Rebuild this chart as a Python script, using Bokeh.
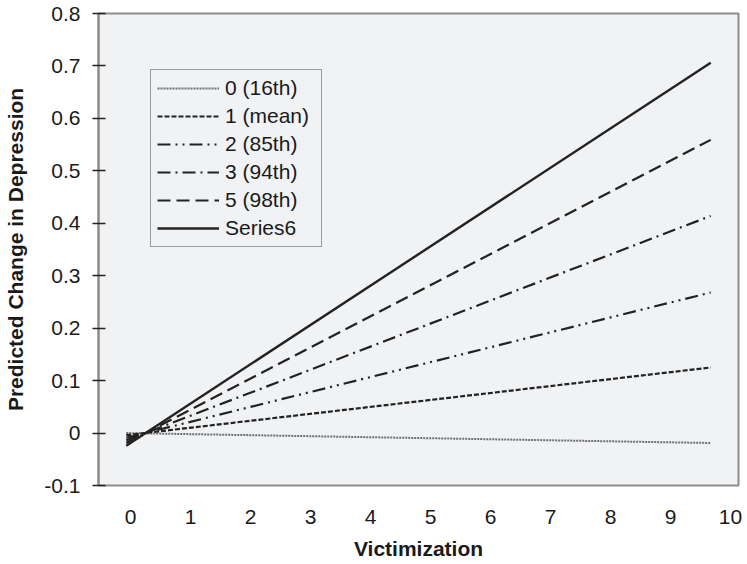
from bokeh.plotting import figure
from bokeh.models import Range1d, FixedTicker, Legend, LegendItem
from bokeh.embed import file_html
from bokeh.resources import INLINE

# ---- data ----
x_vals = [-0.07, 9.67]
s_16th = [0.000, -0.019]
s_mean = [-0.004, 0.125]
s_85th = [-0.009, 0.268]
s_94th = [-0.014, 0.414]
s_98th = [-0.019, 0.559]
s_series6 = [-0.024, 0.706]

labels = ["0 (16th)", "1 (mean)", "2 (85th)", "3 (94th)", "5 (98th)", "Series6"]
x_ticks = list(range(0, 11))
y_ticks = [-0.1, 0.0, 0.1, 0.2, 0.3, 0.4, 0.5, 0.6, 0.7, 0.8]
y_tick_labels = {-0.1: "-0.1", 0.0: "0", 0.1: "0.1", 0.2: "0.2", 0.3: "0.3",
                 0.4: "0.4", 0.5: "0.5", 0.6: "0.6", 0.7: "0.7", 0.8: "0.8"}

FONT = "Liberation Sans"
FS = "21px"
TXT = "#1a1a1a"
BG = "#f1f2f4"

p = figure(width=745, height=562, output_backend="svg", toolbar_location=None,
           x_range=Range1d(-0.533, 10.133), y_range=Range1d(-0.1, 0.8),
           min_border_left=98, min_border_right=7, min_border_top=13, min_border_bottom=75,
           background_fill_color=BG, border_fill_color="white")

p.outline_line_color = "#8c8c8c"
p.outline_line_width = 2
p.grid.visible = False

# x axis
xa = p.xaxis[0]
xa.ticker = FixedTicker(ticks=x_ticks)
xa.axis_line_color = None
xa.major_tick_line_color = None
xa.minor_tick_line_color = None
xa.major_tick_out = 0
xa.major_tick_in = 0
xa.major_label_standoff = 24
xa.major_label_text_font = FONT
xa.major_label_text_font_size = FS
xa.major_label_text_color = TXT
xa.axis_label = "Victimization"
xa.axis_label_text_font = FONT
xa.axis_label_text_font_size = FS
xa.axis_label_text_font_style = "bold"
xa.axis_label_text_color = TXT
xa.axis_label_standoff = 10

# y axis
ya = p.yaxis[0]
ya.ticker = FixedTicker(ticks=y_ticks)
ya.major_label_overrides = y_tick_labels
ya.axis_line_color = "#8c8c8c"
ya.axis_line_width = 2
ya.major_tick_line_color = "#222222"
ya.major_tick_line_width = 1.5
ya.major_tick_out = 6
ya.major_tick_in = 7
ya.minor_tick_line_color = None
ya.major_label_standoff = 12
ya.major_label_text_font = FONT
ya.major_label_text_font_size = FS
ya.major_label_text_color = TXT
ya.axis_label = "Predicted Change in Depression"
ya.axis_label_text_font = FONT
ya.axis_label_text_font_size = FS
ya.axis_label_text_font_style = "bold"
ya.axis_label_text_color = TXT
ya.axis_label_standoff = 14

styles = [
    (s_16th, "#707070", "2 1", 2),
    (s_mean, "#222222", "5 2", 2.2),
    (s_85th, "#222222", "13 5 2 5 2 5", 2.2),
    (s_94th, "#222222", "13 5 2 5", 2.2),
    (s_98th, "#222222", "13 6", 2.2),
    (s_series6, "#222222", "solid", 2.4),
]

items = []
for (ys, col, dash, w), lab in zip(styles, labels):
    r = p.line(x_vals, ys, line_color=col, line_dash=dash, line_width=w)
    items.append(LegendItem(label=lab, renderers=[r]))

legend = Legend(items=items, location=(52, 238))
legend.background_fill_color = BG
legend.background_fill_alpha = 1
legend.border_line_color = "#444444"
legend.border_line_width = 1
legend.label_text_font = FONT
legend.label_text_font_size = FS
legend.label_text_color = TXT
legend.glyph_width = 62
legend.glyph_height = 20
legend.label_height = 20
legend.label_width = 90
legend.label_standoff = 6
legend.spacing = 4
legend.padding = 6
legend.margin = 0
p.add_layout(legend, "center")

open("out.html", "w").write(file_html(p, INLINE))
